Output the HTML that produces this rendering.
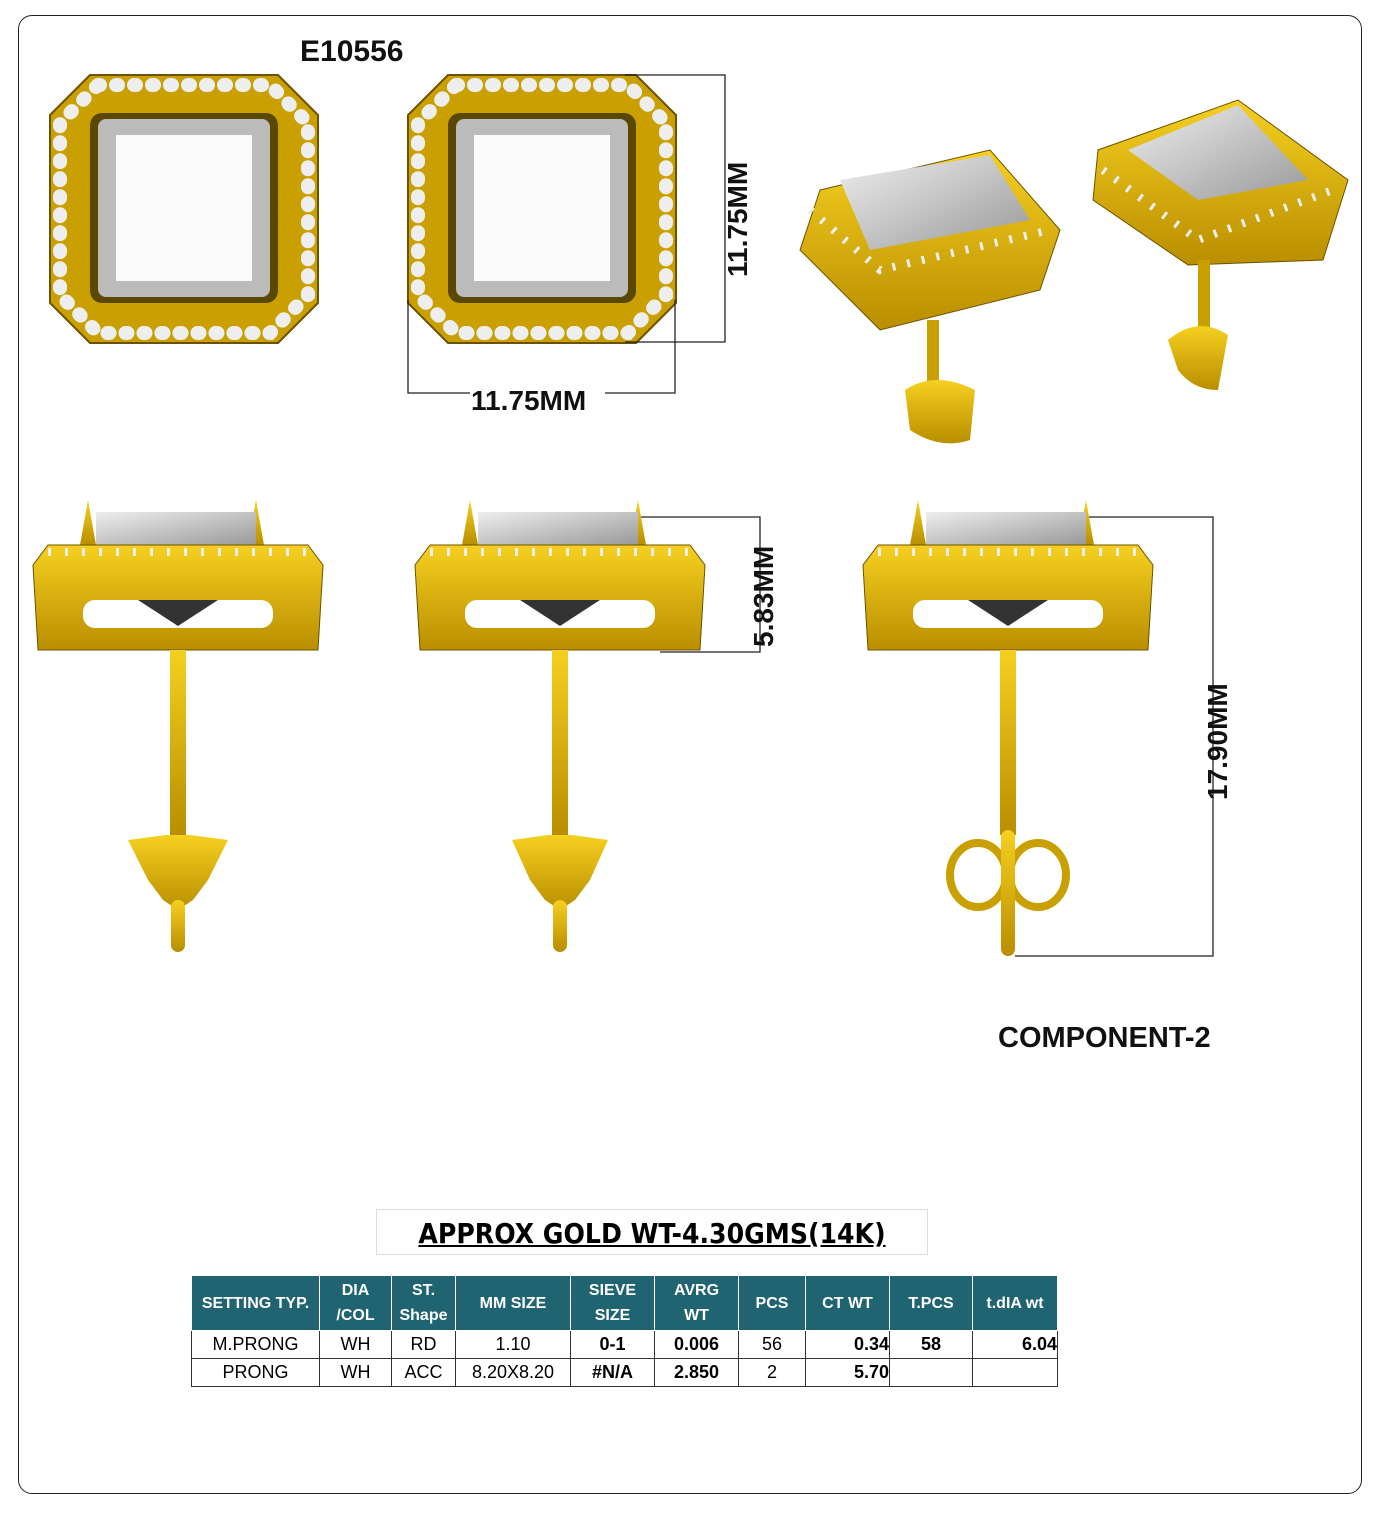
<!DOCTYPE html>
<html><head><meta charset="utf-8"><style>
body{margin:0;width:1376px;height:1516px;background:#fff;position:relative;font-family:"Liberation Sans",sans-serif;overflow:hidden}
.frame{position:absolute;left:18px;top:15px;width:1342px;height:1477px;border:1px solid #222;border-radius:14px}
.t{position:absolute;font-weight:bold;color:#111}
table{position:absolute;left:191px;top:1275px;border-collapse:collapse;font-family:"Liberation Sans",sans-serif}
td{border:1px solid #333;text-align:center;font-size:18px;padding:0;height:27px}
th{background:#1f6470;color:#fff;font-size:16px;font-weight:bold;border:1px solid #fff;height:54px;padding:0;line-height:25px}
</style></head><body>
<div class="frame"></div>
<div class="t" style="left:300px;top:35px;font-size:30px">E10556</div>
<svg width="1376" height="1516" style="position:absolute;left:0;top:0">
<defs>
<linearGradient id="g" x1="0" y1="0" x2="0" y2="1"><stop offset="0" stop-color="#f5d020"/><stop offset="1" stop-color="#b98e00"/></linearGradient>
<linearGradient id="s" x1="0" y1="0" x2="1" y2="1"><stop offset="0" stop-color="#eee"/><stop offset="1" stop-color="#999"/></linearGradient>
<g id="top">
<polygon points="40,0 228,0 268,40 268,228 228,268 40,268 0,228 0,40" fill="#c9a000" stroke="#6b5200" stroke-width="2"/>
<polygon points="48,10 220,10 258,48 258,220 220,258 48,258 10,220 10,48" fill="none" stroke="#eee" stroke-width="14" stroke-dasharray="2 16" stroke-linecap="round"/>
<rect x="40" y="38" width="188" height="190" rx="12" fill="#5a4700"/>
<rect x="48" y="44" width="172" height="178" rx="8" fill="#bbb"/>
<rect x="66" y="60" width="136" height="146" fill="#fafafa"/>
</g>
<g id="side">
<path d="M50,0 L58,45 L42,45Z M218,0 L226,45 L210,45Z" fill="url(#g)"/>
<rect x="58" y="12" width="160" height="33" fill="url(#s)"/>
<path d="M10,45 L270,45 L285,65 L280,150 L0,150 L-5,65Z" fill="url(#g)" stroke="#6b5200"/>
<path d="M10,52 L270,52" stroke="#eee" stroke-width="8" stroke-dasharray="3 14"/>
<rect x="45" y="100" width="190" height="28" rx="12" fill="#fff"/>
<path d="M100,100 L180,100 L140,126Z" fill="#333"/>
<rect x="132" y="150" width="16" height="185" fill="url(#g)"/>
</g>
</defs>
<use href="#top" x="50" y="75"/>
<use href="#top" x="408" y="75"/>
<g stroke="#222" fill="none" stroke-width="1.3">
<path d="M625,75 H725 V342 H625"/><path d="M408,300 V393 H470 M605,393 H675 V300"/>
<path d="M640,517 H760 V652 H660"/><path d="M1080,517 H1213 V956 H1015"/>
</g>
<g transform="translate(38,500)"><use href="#side" x="0" y="0"/><path d="M128,335 L90,340 L110,380 L125,400 L140,410 L155,400 L170,380 L190,340 L152,335Z" fill="url(#g)"/><rect x="133" y="400" width="14" height="52" rx="7" fill="url(#g)"/></g>
<g transform="translate(420,500)"><use href="#side" x="0" y="0"/><path d="M128,335 L92,340 L110,380 L125,400 L140,410 L155,400 L170,380 L188,340 L152,335Z" fill="url(#g)"/><rect x="133" y="400" width="14" height="52" rx="7" fill="url(#g)"/></g>
<g transform="translate(868,500)"><use href="#side" x="0" y="0"/><ellipse cx="110" cy="375" rx="28" ry="32" fill="none" stroke="#c9a000" stroke-width="8"/><ellipse cx="170" cy="375" rx="28" ry="32" fill="none" stroke="#c9a000" stroke-width="8"/><rect x="133" y="330" width="14" height="126" rx="7" fill="url(#g)"/></g>
<g transform="translate(790,150)">
<polygon points="30,40 200,0 270,80 250,140 90,180 10,100" fill="url(#g)" stroke="#6b5200"/>
<polygon points="50,30 200,5 240,70 80,100" fill="url(#s)"/>
<path d="M20,60 L90,120 L260,80" stroke="#eee" stroke-width="8" fill="none" stroke-dasharray="3 12"/>
<rect x="137" y="170" width="12" height="70" fill="#c9a000"/>
<path d="M115,240 Q145,220 185,240 L180,290 Q150,300 120,280Z" fill="url(#g)"/>
</g>
<g transform="translate(1088,90)">
<polygon points="10,60 150,10 260,90 235,170 100,175 5,110" fill="url(#g)" stroke="#6b5200"/>
<polygon points="40,60 150,15 220,90 110,110" fill="url(#s)"/>
<path d="M15,80 L110,150 L245,100" stroke="#eee" stroke-width="8" fill="none" stroke-dasharray="3 12"/>
<rect x="110" y="170" width="12" height="70" fill="#c9a000"/>
<path d="M80,250 Q110,225 140,245 L130,300 Q105,300 90,280Z" fill="url(#g)"/>
</g>
<g font-family="Liberation Sans" font-weight="bold" font-size="28" fill="#111">
<text x="471" y="410">11.75MM</text>
<text transform="translate(747,277) rotate(-90)">11.75MM</text>
<text transform="translate(773,647) rotate(-90)">5.83MM</text>
<text transform="translate(1227,800) rotate(-90)">17.90MM</text>
</g>
</svg>
<div class="t" style="left:998px;top:1022px;font-size:29px">COMPONENT-2</div>
<div style="position:absolute;left:376px;top:1209px;width:550px;height:44px;border:1px solid #ddd;text-align:center;font-family:'DejaVu Sans Condensed','Liberation Sans',sans-serif;font-weight:bold;font-size:28px;line-height:48px;text-decoration:underline">APPROX GOLD WT-4.30GMS(14K)</div>
<table>
<tr><th style="width:127px">SETTING TYP.</th><th style="width:71px">DIA<br>/COL</th><th style="width:63px">ST.<br>Shape</th><th style="width:114px">MM SIZE</th><th style="width:83px">SIEVE<br>SIZE</th><th style="width:83px">AVRG<br>WT</th><th style="width:66px">PCS</th><th style="width:83px">CT WT</th><th style="width:82px">T.PCS</th><th style="width:84px">t.dIA wt</th></tr>
<tr><td>M.PRONG</td><td>WH</td><td>RD</td><td>1.10</td><td><b>0-1</b></td><td><b>0.006</b></td><td>56</td><td style="text-align:right"><b>0.34</b></td><td><b>58</b></td><td style="text-align:right"><b>6.04</b></td></tr>
<tr><td>PRONG</td><td>WH</td><td>ACC</td><td>8.20X8.20</td><td><b>#N/A</b></td><td><b>2.850</b></td><td>2</td><td style="text-align:right"><b>5.70</b></td><td></td><td></td></tr>
</table>
</body></html>
